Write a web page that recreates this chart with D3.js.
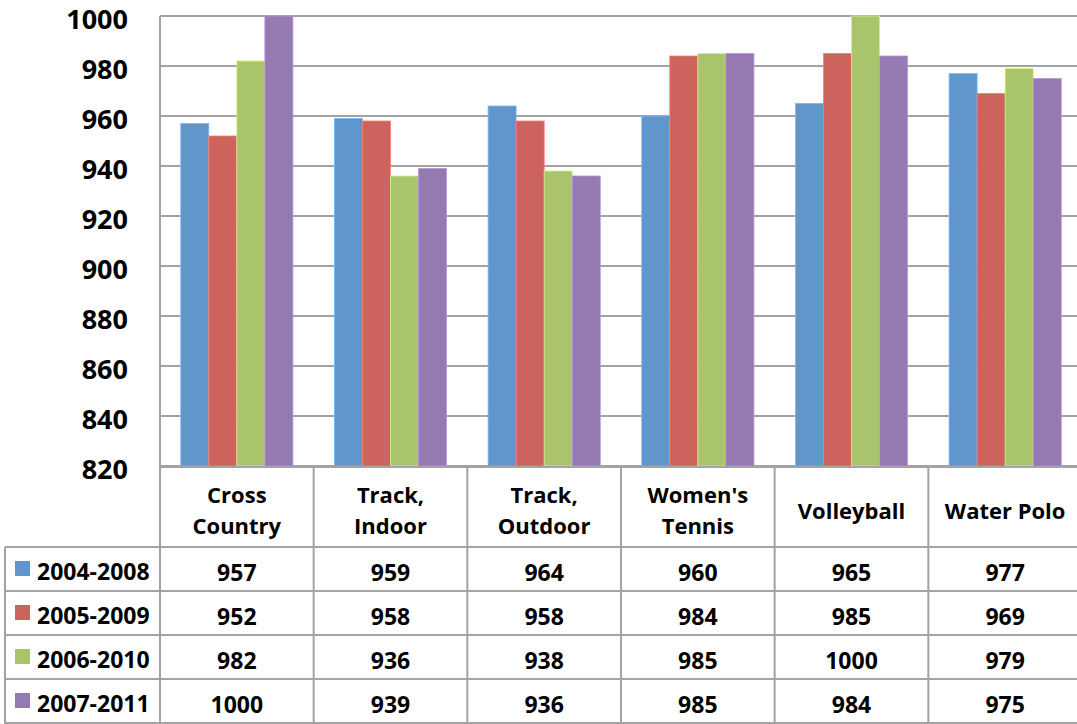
<!DOCTYPE html>
<html>
<head>
<meta charset="utf-8">
<script src="https://cdn.jsdelivr.net/npm/d3@7"></script>
<style>
  html, body { margin: 0; padding: 0; background: #fff; }
  svg { display: block; font-family: "Open Sans", "Noto Sans", sans-serif; font-weight: 700; }
</style>
</head>
<body>
<svg id="chart" width="1077" height="724"></svg>
<script>
// Sport categories (column headers of the data table)
const categories = ["Cross Country", "Track, Indoor", "Track, Outdoor", "Women's Tennis", "Volleyball", "Water Polo"];
const headerLines = [["Cross", "Country"], ["Track,", "Indoor"], ["Track,", "Outdoor"], ["Women's", "Tennis"], ["Volleyball"], ["Water Polo"]];

// Rating periods
const seriesNames = ["2004-2008", "2005-2009", "2006-2010", "2007-2011"];
const seriesColors = ["#6096CB", "#CC645D", "#AAC46B", "#947AB0"];

// Values per period, in category order
const values2004 = [957, 959, 964, 960, 965, 977];
const values2005 = [952, 958, 958, 984, 985, 969];
const values2006 = [982, 936, 938, 985, 1000, 979];
const values2007 = [1000, 939, 936, 985, 984, 975];
const seriesValues = [values2004, values2005, values2006, values2007];

const yTicks = [820, 840, 860, 880, 900, 920, 940, 960, 980, 1000];

const W = 1077, H = 724;
const plotLeft = 160, plotRight = 1082, plotTop = 16, plotBottom = 466;
const headerBottom = 547, tableBottom = 723, tableLeft = 5;
const rowH = (tableBottom - headerBottom) / seriesNames.length;
const gridColor = "#A3A3A3";

const svg = d3.select("#chart");

const y = d3.scaleLinear().domain([820, 1000]).range([plotBottom, plotTop]);
const x0 = d3.scaleBand().domain(categories).range([plotLeft, plotRight]).paddingInner(0).paddingOuter(0);
const x1 = d3.scaleBand().domain(seriesNames).range([0, x0.bandwidth()]).paddingInner(0).paddingOuter(0.74);

// Horizontal gridlines
svg.append("g").selectAll("line").data(yTicks).join("line")
  .attr("x1", plotLeft).attr("x2", W)
  .attr("y1", d => y(d)).attr("y2", d => y(d))
  .attr("stroke", gridColor).attr("stroke-width", 2);

// Y tick labels
svg.append("g").selectAll("text").data(yTicks).join("text")
  .attr("x", 128).attr("y", d => y(d) + 13)
  .attr("text-anchor", "end")
  .attr("font-size", 27)
  .attr("fill", "#000")
  .text(d => d);

// Bars
const rows = categories.map((c, i) => ({ cat: c, vals: seriesValues.map(s => s[i]) }));
const groups = svg.append("g").selectAll("g").data(rows).join("g")
  .attr("transform", d => `translate(${x0(d.cat)},0)`);
groups.selectAll("rect").data(d => d.vals.map((v, k) => ({ v, k }))).join("rect")
  .attr("x", d => x1(seriesNames[d.k]))
  .attr("width", x1.bandwidth())
  .attr("y", d => y(d.v))
  .attr("height", d => y(820) - y(d.v))
  .attr("fill", d => seriesColors[d.k])
  .attr("stroke", d => d3.color(seriesColors[d.k]).brighter(0.6))
  .attr("stroke-width", 0.8);

// Data table grid
const tbl = svg.append("g").attr("stroke", gridColor).attr("stroke-width", 2);
// axis baseline / header top
tbl.append("line").attr("x1", plotLeft).attr("x2", W).attr("y1", plotBottom + 1).attr("y2", plotBottom + 1);
// value axis line continuing as first column divider
tbl.append("line").attr("x1", plotLeft).attr("x2", plotLeft).attr("y1", plotTop).attr("y2", H);
// column dividers
categories.slice(1).forEach(c => {
  tbl.append("line").attr("x1", x0(c)).attr("x2", x0(c)).attr("y1", plotBottom + 1).attr("y2", H);
});
// row lines
d3.range(seriesNames.length + 1).forEach(r => {
  const yy = headerBottom + r * rowH;
  tbl.append("line").attr("x1", tableLeft).attr("x2", W).attr("y1", yy).attr("y2", yy);
});
// left border of legend column
tbl.append("line").attr("x1", tableLeft).attr("x2", tableLeft).attr("y1", headerBottom).attr("y2", H);

// Column headers
const headerMid = 510;
categories.forEach((c, i) => {
  const lines = headerLines[i];
  const cx = x0(c) + x0.bandwidth() / 2;
  lines.forEach((ln, j) => {
    svg.append("text")
      .attr("x", cx)
      .attr("y", headerMid + 8.5 + (j - (lines.length - 1) / 2) * 31)
      .attr("text-anchor", "middle")
      .attr("font-size", 22)
      .attr("fill", "#000")
      .text(ln);
  });
});

// Legend keys and value rows
seriesNames.forEach((s, k) => {
  const top = headerBottom + k * rowH;
  const mid = top + rowH / 2;
  svg.append("rect")
    .attr("x", 15).attr("y", mid - 8).attr("width", 15).attr("height", 15)
    .attr("fill", seriesColors[k]);
  svg.append("text")
    .attr("x", 37).attr("y", mid + 11)
    .attr("font-size", 23).attr("fill", "#000")
    .text(s);
  categories.forEach((c, i) => {
    svg.append("text")
      .attr("x", x0(c) + x0.bandwidth() / 2)
      .attr("y", mid + 12)
      .attr("text-anchor", "middle")
      .attr("font-size", 23).attr("fill", "#000")
      .text(seriesValues[k][i]);
  });
});
</script>
</body>
</html>
